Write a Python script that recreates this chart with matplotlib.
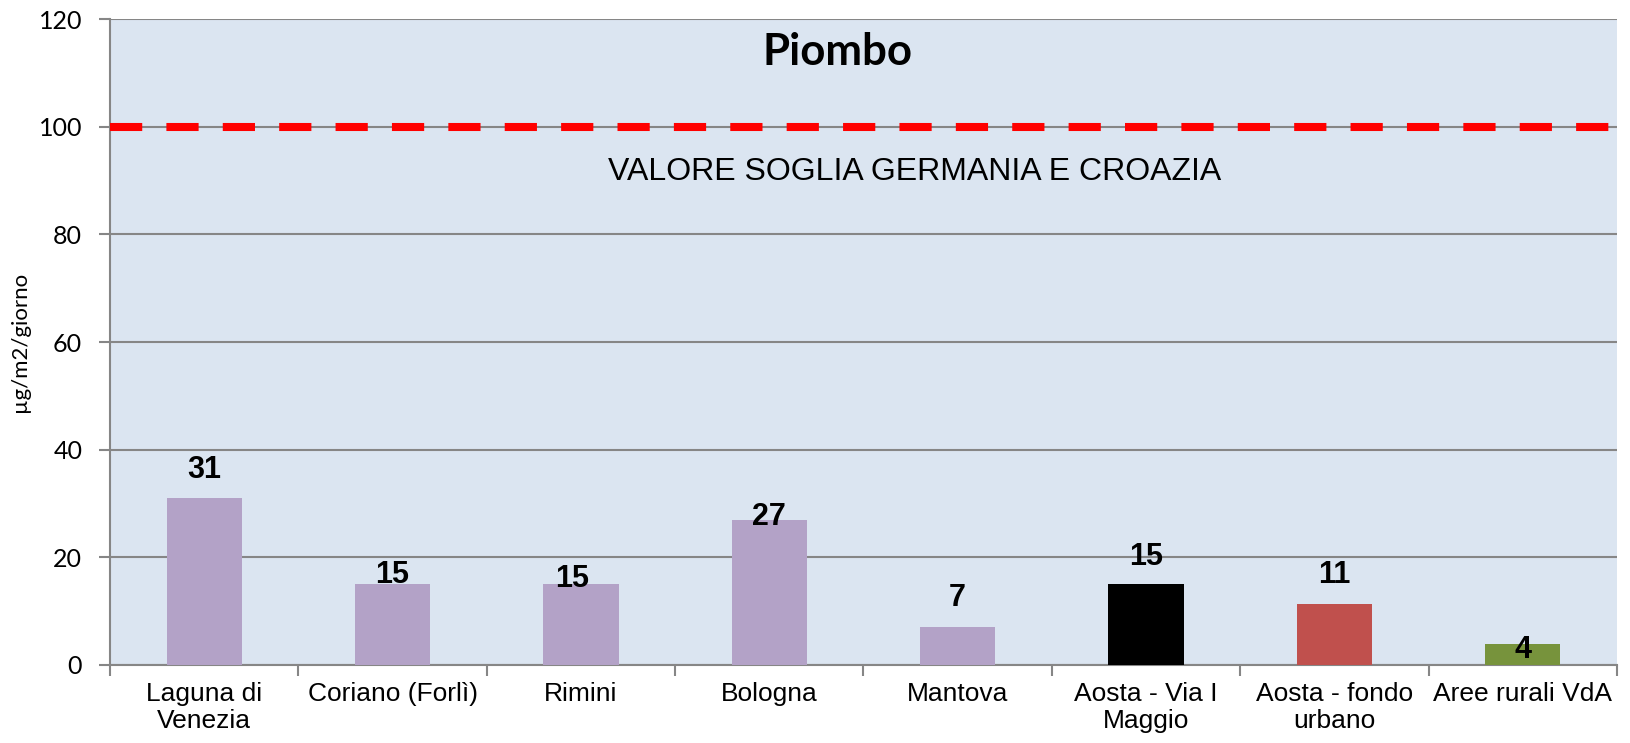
import matplotlib.pyplot as plt
from matplotlib.ticker import FixedLocator

# data
stations = ["Laguna di\nVenezia", "Coriano (Forlì)", "Rimini", "Bologna", "Mantova",
            "Aosta - Via I\nMaggio", "Aosta - fondo\nurbano", "Aree rurali VdA"]
lead = [31, 15, 15, 27, 7, 15, 11.3, 3.9]
bar_colors = ["#B3A2C7", "#B3A2C7", "#B3A2C7", "#B3A2C7", "#B3A2C7",
              "#000000", "#C0504D", "#77933C"]
threshold = 100
threshold_label = "VALORE SOGLIA GERMANIA E CROAZIA"

# where Excel dropped the data labels (in points, relative to bar top)
label_dy = [20, 6.5, 4, 2, 21, 19.5, 21, -4]
label_dx = [0, 0, -6, 0, 0, 0, 0, 0]

fig = plt.figure(figsize=(16.3, 7.43), dpi=100)
ax = fig.add_axes([0.0675, 0.105, 0.9245, 0.8694])
ax.set_facecolor("#DBE5F1")

x = list(range(len(stations)))
ax.bar(x, lead, width=0.4, color=bar_colors, zorder=3)

for i, v in enumerate(lead):
    ax.annotate(f"{v:.0f}", (x[i], v), xytext=(label_dx[i], label_dy[i]),
                textcoords="offset points", ha="center", va="center",
                fontsize=22, fontweight="bold", family="Liberation Sans", zorder=5)

ax.axhline(threshold, color="#FF0000", lw=5.8, dashes=(4, 3), zorder=4)

ax.set_xlim(-0.5, len(stations) - 0.5)
ax.set_ylim(0, 120)
ax.set_yticks(range(0, 121, 20))
ax.yaxis.grid(True, color="#868686", lw=1.5, zorder=1)
ax.set_axisbelow(True)

ax.set_xticks(x)
ax.set_xticklabels(stations, fontsize=19, family="Liberation Sans")
ax.xaxis.set_minor_locator(FixedLocator([i - 0.5 for i in range(len(stations) + 1)]))
ax.tick_params(axis="x", which="major", length=0, pad=12)
ax.tick_params(axis="x", which="minor", length=8, width=1.5, color="#868686")
ax.tick_params(axis="y", length=8, width=1.5, color="#868686", pad=12)
for lab in ax.get_yticklabels():
    lab.set_family("Lato")
    lab.set_fontsize(18)

for s in ["top", "right"]:
    ax.spines[s].set_visible(False)
for s in ["left", "bottom"]:
    ax.spines[s].set_color("#868686")
    ax.spines[s].set_linewidth(1.5)

ax.set_ylabel("µg/m2/giorno", family="Lato", fontsize=16)
ax.yaxis.label.set_va("center")
ax.yaxis.set_label_coords(-0.060, 0.5)

ax.text(0.483, 0.949, "Piombo", transform=ax.transAxes, ha="center", va="center",
        fontsize=31.5, fontweight="bold", family="Lato")
ax.text(0.534, 0.763, threshold_label, transform=ax.transAxes, ha="center",
        va="center", fontsize=23, family="Liberation Sans")

fig.savefig("out.png", dpi=100)
